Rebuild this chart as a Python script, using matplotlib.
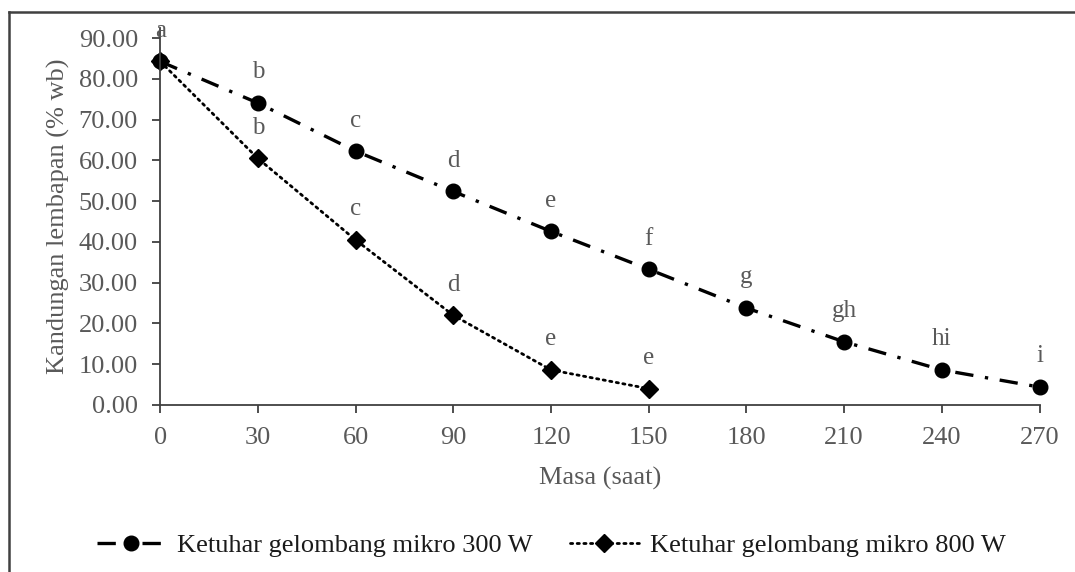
import matplotlib.pyplot as plt
from matplotlib.lines import Line2D

# data
masa_300 = [0, 30, 60, 90, 120, 150, 180, 210, 240, 270]
lembapan_300 = [84.3, 74.1, 62.3, 52.4, 42.6, 33.3, 23.8, 15.5, 8.6, 4.4]
huruf_300 = ['a', 'b', 'c', 'd', 'e', 'f', 'g', 'gh', 'hi', 'i']

masa_800 = [0, 30, 60, 90, 120, 150]
lembapan_800 = [84.3, 60.5, 40.5, 22.0, 8.6, 4.0]
huruf_800 = ['', 'b', 'c', 'd', 'e', 'e']

x_ticks = [0, 30, 60, 90, 120, 150, 180, 210, 240, 270]
y_ticks = [0, 10, 20, 30, 40, 50, 60, 70, 80, 90]

plt.rcParams['font.family'] = ['Liberation Serif', 'DejaVu Serif']
txt = '#595959'
axc = '#404040'

fig = plt.figure(figsize=(10.75, 5.72), dpi=100)
ax = fig.add_axes([0.149, 0.292, 0.818, 0.659])

ax.plot(masa_300, lembapan_300, color='black', lw=2.4,
        linestyle=(0, (5.5, 3.5, 1, 3.5)), marker='o', markersize=10.5,
        label='Ketuhar gelombang mikro 300 W')
ax.plot(masa_800, lembapan_800, color='black', lw=2.0,
        linestyle=(0, (0.8, 1.6)), dash_capstyle='round', marker='D', markersize=9,
        label='Ketuhar gelombang mikro 800 W')

for x, y, h in zip(masa_300, lembapan_300, huruf_300):
    ax.annotate(h, (x, y), xytext=(0, 22), textcoords='offset points',
                ha='center', va='center', fontsize=18, color=txt)
for x, y, h in zip(masa_800, lembapan_800, huruf_800):
    if h:
        ax.annotate(h, (x, y), xytext=(0, 22), textcoords='offset points',
                    ha='center', va='center', fontsize=18, color=txt)

ax.set_xlim(0, 270)
ax.set_ylim(0, 92.5)
ax.set_xticks(x_ticks)
ax.set_yticks(y_ticks)
ax.set_yticklabels(['%.2f' % v for v in y_ticks])
ax.tick_params(colors=axc, labelcolor=txt, labelsize=19, length=6, width=1.3, direction='out')
ax.tick_params(axis='x', pad=10)
ax.tick_params(axis='y', pad=10)
for s in ['top', 'right']:
    ax.spines[s].set_visible(False)
for s in ['left', 'bottom']:
    ax.spines[s].set_color(axc)
    ax.spines[s].set_linewidth(1.3)
for ln in ax.lines:
    ln.set_clip_on(False)

ax.set_xlabel('Masa (saat)', fontsize=19, color=txt, labelpad=13)
ax.set_ylabel('Kandungan lembapan (% wb)', fontsize=19, color=txt, labelpad=6)

ax.legend(loc='center', bbox_to_anchor=(0.445, -0.372), ncol=2, frameon=False,
          fontsize=19, handlelength=2.6, columnspacing=1.4, handletextpad=0.45,
          labelcolor='#1a1a1a')

# outer frame (left and top edges only)
fig.add_artist(Line2D([0.0084, 0.0084], [0, 0.979], color=axc, lw=1.8))
fig.add_artist(Line2D([0.0084, 1.0], [0.979, 0.979], color=axc, lw=1.8))

fig.savefig('out.png', dpi=100)
